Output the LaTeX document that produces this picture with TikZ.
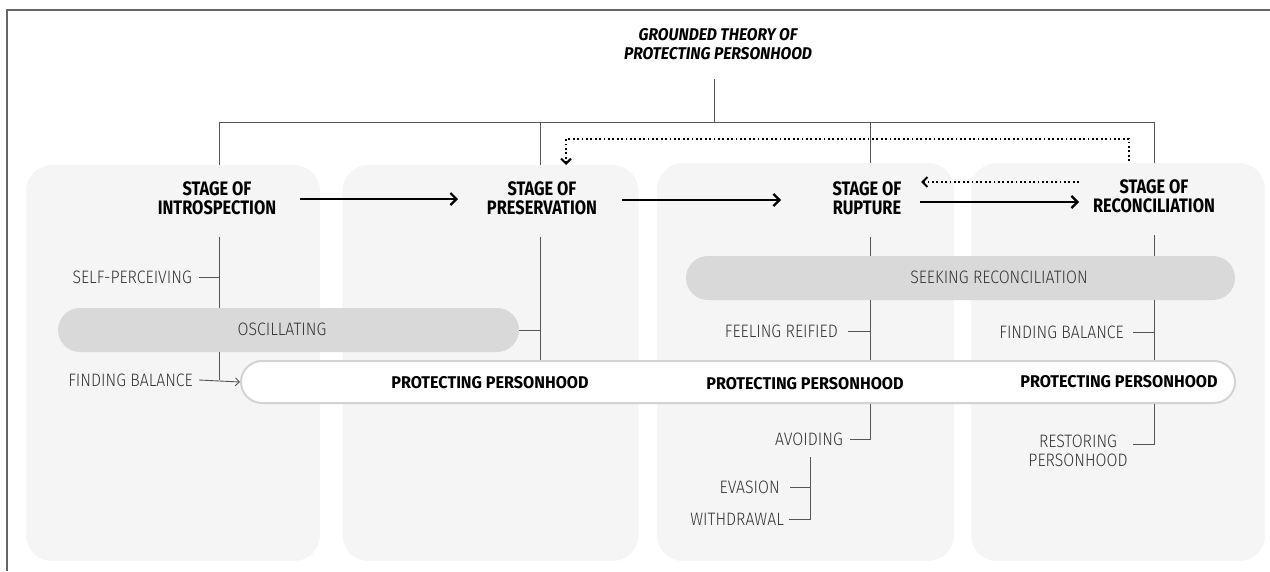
\documentclass[tikz,border=0pt]{standalone}
\usepackage{fontspec}
\setmainfont{Fira Sans}
\newfontfamily\labfont[FakeStretch=0.88,UprightFont={* Light}]{Fira Sans}
\newfontfamily\stagefont[FakeStretch=0.84]{Fira Sans}
\newfontfamily\protfont[FakeStretch=0.95]{Fira Sans}
\newfontfamily\titlefont[FakeStretch=0.92]{Fira Sans}
\usetikzlibrary{arrows.meta}
\definecolor{panel}{HTML}{F5F5F5}
\definecolor{pill}{HTML}{D9D9D9}
\definecolor{linec}{HTML}{555555}
\definecolor{txt}{HTML}{333333}
\definecolor{pborder}{HTML}{D3D3D3}
\tikzset{
  panelbox/.style={draw=none,fill=panel,rounded corners=26pt,inner sep=0pt},
  pillbox/.style={draw=none,fill=pill,rounded corners=22pt,inner sep=0pt},
  protbox/.style={draw=pborder,line width=2pt,fill=white,rounded corners=21pt,inner sep=0pt},
  stagelab/.style={font=\stagefont\bfseries\fontsize{19.5}{19.5}\selectfont,align=center,text=black,inner sep=0pt},
  protlab/.style={font=\protfont\bfseries\fontsize{17}{19}\selectfont,text=black,inner sep=0pt},
  lab/.style={font=\labfont\fontsize{18}{19.5}\selectfont,text=txt,inner sep=0pt,align=center},
  titlelab/.style={font=\titlefont\bfseries\itshape\fontsize{17}{19.5}\selectfont,align=center,inner sep=0pt},
  thin/.style={draw=linec,line width=0.9pt},
  bigarrow/.style={line width=2.8pt,-{Straight Barb[length=6pt,width=12pt,line width=2.2pt]}},
  dotarrow/.style={line width=2.6pt,dash pattern=on 1.8pt off 2.6pt,-{Straight Barb[length=5pt,width=10pt,line width=2pt]}},
  smallarrow/.style={draw=linec,line width=0.9pt,-{Straight Barb[length=4pt,width=8pt]}}
}
\begin{document}
\begin{tikzpicture}[x=1pt,y=-1pt]
\useasboundingbox (0,0) rectangle (1270,571);
% frame
\draw[draw=gray!80!black,line width=1.5pt] (7,571) -- (7,10) -- (1270,10);
% panels
\node[panelbox,minimum width=294pt,minimum height=396pt] (p1) at (173,363) {};
\node[panelbox,minimum width=296pt,minimum height=396pt] (p2) at (490.5,363) {};
\node[panelbox,minimum width=297pt,minimum height=398pt] (p3) at (805.5,362) {};
\node[panelbox,minimum width=294pt,minimum height=398pt] (p4) at (1118,362) {};
% title
\node[titlelab] (title) at (718,44) {GROUNDED THEORY OF\\PROTECTING PERSONHOOD};
% stage labels
\node[stagelab] (s1) at (217,198) {STAGE OF\\INTROSPECTION};
\node[stagelab] (s2) at (542,198) {STAGE OF\\PRESERVATION};
\node[stagelab] (s3) at (867,198) {STAGE OF\\RUPTURE};
\node[stagelab] (s4) at (1154,196) {STAGE OF\\RECONCILIATION};
% tree coordinates
\coordinate (tb) at (714,79);
\coordinate (tj) at (714,122);
\coordinate (h1) at (219,122);
\coordinate (h2) at (540,122);
\coordinate (h3) at (870,122);
\coordinate (h4) at (1154,122);
\draw[thin] (tb) -- (tj);
\draw[thin] (h1) -- (h4);
\draw[thin] (h1) -- (p1.north -| h1);
\draw[thin] (h2) -- (p2.north -| h2);
\draw[thin] (h3) -- (p3.north -| h3);
\draw[thin] (h4) -- (p4.north -| h4);
% big arrows
\draw[bigarrow] (300,199) -- (458,199);
\draw[bigarrow] (622,200) -- (781,200);
\draw[bigarrow] (920,202) -- (1079,202);
% dotted arrows
\coordinate (d1) at (1079,182);
\coordinate (d2) at (921,182);
\draw[dotarrow] (d1) -- (d2);
\coordinate (e1) at (1129,161);
\coordinate (e2) at (1129,139);
\coordinate (e3) at (566,139);
\coordinate (e4) at (566,165);
\draw[dotarrow] (e1) -- (e2) -- (e3) -- (e4);
% pills
\node[pillbox,minimum width=461pt,minimum height=44pt] (osc) at (288.5,330) {};
\node[lab] (osct) at (282,329) {OSCILLATING};
\node[pillbox,minimum width=549pt,minimum height=44pt] (seek) at (960.5,278) {};
\node[lab] (seekt) at (999,277) {SEEKING RECONCILIATION};
% column 1 lines
\coordinate (c1a) at (219,237);
\coordinate (c1b) at (219,380);
\draw[thin] (c1a) -- (osc.north -| c1a);
\draw[thin] (osc.south -| c1a) -- (c1b);
% column 2 line
\coordinate (c2a) at (540,237);
\coordinate (c2b) at (540,361);
\draw[thin] (c2a) -- (c2b);
\draw[thin] (osc.east) -- (osc.east -| c2a);
% protecting box
\node[protbox,minimum width=994pt,minimum height=42pt] (prot) at (738,382) {};
\node[protlab] (pp1) at (490,383) {PROTECTING PERSONHOOD};
\node[protlab] (pp2) at (805,384) {PROTECTING PERSONHOOD};
\node[protlab] (pp3) at (1119,382) {PROTECTING PERSONHOOD};
% labels column 1
\node[lab,anchor=east] (selfp) at (192,277) {SELF-PERCEIVING};
\draw[thin] (199,277) -- (219,277);
\node[lab,anchor=east] (fb1) at (193,380) {FINDING BALANCE};
\draw[smallarrow] (199,380) -- (prot.west);
% column 3
\coordinate (c3a) at (870,237);
\draw[thin] (c3a) -- (seek.north -| c3a);
\draw[thin] (seek.south -| c3a) -- (prot.north -| c3a);
\node[lab,anchor=east] (fr) at (838,331) {FEELING REIFIED};
\draw[thin] (848,331) -- (870,331);
\node[lab,anchor=east] (av) at (843,439) {AVOIDING};
\draw[thin] (prot.south -| c3a) -- (870,439) -- (850,439);
\coordinate (b1) at (810,457);
\coordinate (b2) at (810,519);
\node[lab,anchor=east] (ev) at (780,487) {EVASION};
\node[lab,anchor=east] (wd) at (784,519) {WITHDRAWAL};
\draw[thin] (b1) -- (b2) -- (789,519);
\draw[thin] (790,487) -- (810,487);
% column 4
\coordinate (c4a) at (1154,235);
\draw[thin] (c4a) -- (seek.north -| c4a);
\draw[thin] (seek.south -| c4a) -- (prot.north -| c4a);
\node[lab,anchor=east] (fb2) at (1124,332) {FINDING BALANCE};
\draw[thin] (1133,332) -- (1154,332);
\node[lab] (rp) at (1078,451) {RESTORING\\PERSONHOOD};
\draw[thin] (prot.south -| c4a) -- (1154,444) -- (1133,444);
\end{tikzpicture}
\end{document}
